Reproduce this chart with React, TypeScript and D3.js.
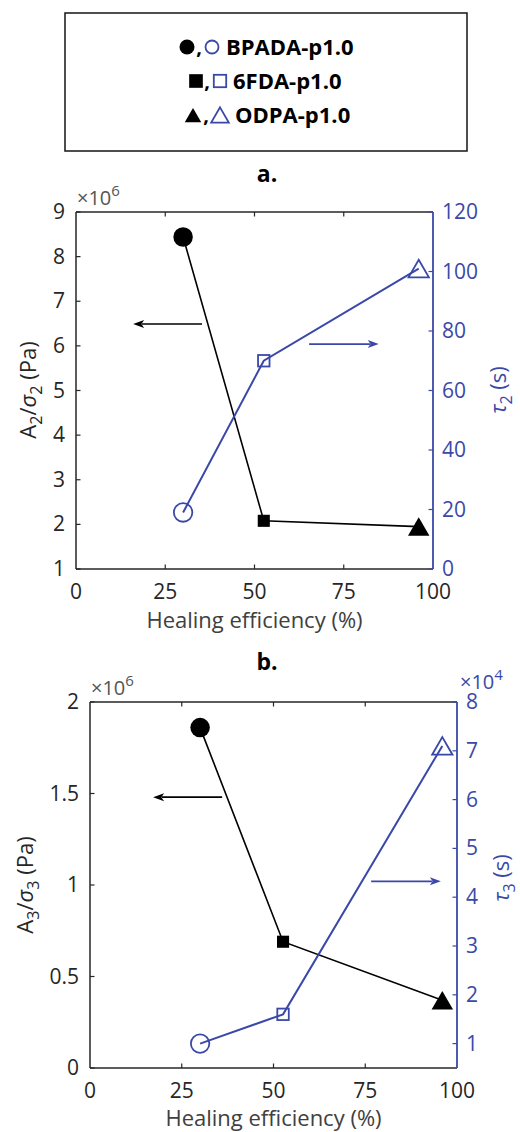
import React from "react";
import * as d3 from "d3";

// ---------- data ----------
const efficiency = [30, 52.6, 96]; // Healing efficiency (%)
const a2Values = [8.44e6, 2.08e6, 1.95e6]; // A2/sigma2 (Pa)
const tau2Values = [19, 70, 101]; // tau2 (s)
const a3Values = [1.86e6, 0.69e6, 0.37e6]; // A3/sigma3 (Pa)
const tau3Values = [1.0e4, 1.6e4, 7.1e4]; // tau3 (s)
const legendNames = ["BPADA-p1.0", "6FDA-p1.0", "ODPA-p1.0"];
const markerKinds = ["circle", "square", "triangle"];

const xTicks = [0, 25, 50, 75, 100];
const leftTicksA = [1, 2, 3, 4, 5, 6, 7, 8, 9];
const rightTicksA = [0, 20, 40, 60, 80, 100, 120];
const leftTicksB = [0, 0.5, 1, 1.5, 2];
const leftTickLabelsB = ["0", "0.5", "1", "1.5", "2"];
const rightTicksB = [1, 2, 3, 4, 5, 6, 7, 8];

// annotation arrows in data coords (x %, left-axis value in units of 1e6)
const arrowsA = [
  { x0: 35.3, x1: 16, y: 6.49, blue: false },
  { x0: 65.3, x1: 84.8, y: 6.04, blue: true },
];
const arrowsB = [
  { x0: 36, x1: 17.2, y: 1.48, blue: false },
  { x0: 76.6, x1: 95.6, y: 1.02, blue: true },
];

const BLUE = "#3a49a8";
const AXIS = "#262626";
const FONT = "'Open Sans', sans-serif";

function Marker({ kind, x, y, filled, color, size }: any) {
  const fill = filled ? color : "none";
  const sw = filled ? 0 : 1.8;
  if (kind === "circle")
    return <circle cx={x} cy={y} r={size / 2} fill={fill} stroke={color} strokeWidth={filled ? 0 : 1.8} />;
  if (kind === "square") {
    const s = size * 0.62;
    return <rect x={x - s / 2} y={y - s / 2} width={s} height={s} fill={fill} stroke={color} strokeWidth={sw || 0} />;
  }
  const w = size * 1.1;
  const h = size * 0.95;
  const pts = `${x},${y - h / 2} ${x + w / 2},${y + h / 2} ${x - w / 2},${y + h / 2}`;
  return <polygon points={pts} fill={fill} stroke={color} strokeWidth={sw || 0} strokeLinejoin="miter" />;
}

function Arrow({ x0, x1, y, color }: any) {
  const dir = x1 > x0 ? 1 : -1;
  const hl = 11;
  const hw = 4;
  return (
    <g>
      <line x1={x0} y1={y} x2={x1 - dir * hl * 0.8} y2={y} stroke={color} strokeWidth={1.6} />
      <polygon
        points={`${x1},${y} ${x1 - dir * hl},${y - hw} ${x1 - dir * hl * 0.75},${y} ${x1 - dir * hl},${y + hw}`}
        fill={color}
      />
    </g>
  );
}

function Panel({ box, leftDomain, leftTicks, leftLabels, rightDomain, rightTicks, leftVals, rightVals, arrows, leftLabel, rightLabel, exp, rightExp, xlabelY }: any) {
  const { l, r, t, b } = box;
  const x = d3.scaleLinear().domain([0, 100]).range([l, r]);
  const yL = d3.scaleLinear().domain(leftDomain).range([b, t]);
  const yR = d3.scaleLinear().domain(rightDomain).range([b, t]);
  const lineL = d3.line<number>().x((_, i) => x(efficiency[i])).y((d) => yL(d));
  const lineR = d3.line<number>().x((_, i) => x(efficiency[i])).y((d) => yR(d));
  const tl = 4.5;
  const fs = 21;
  return (
    <g fontFamily={FONT}>
      {/* axes box */}
      <line x1={l} y1={b} x2={r} y2={b} stroke={AXIS} strokeWidth={1.5} />
      <line x1={l} y1={t} x2={r} y2={t} stroke={AXIS} strokeWidth={1.5} />
      <line x1={l} y1={t} x2={l} y2={b} stroke={AXIS} strokeWidth={1.5} />
      <line x1={r} y1={t} x2={r} y2={b} stroke={BLUE} strokeWidth={1.8} />
      {xTicks.map((v) => (
        <g key={"x" + v}>
          {v > 0 && v < 100 && (
            <>
              <line x1={x(v)} x2={x(v)} y1={b} y2={b - tl} stroke={AXIS} strokeWidth={1.2} />
              <line x1={x(v)} x2={x(v)} y1={t} y2={t + tl} stroke={AXIS} strokeWidth={1.2} />
            </>
          )}
          <text x={x(v)} y={b + 30} textAnchor="middle" fontSize={fs} fill={AXIS}>
            {v}
          </text>
        </g>
      ))}
      {leftTicks.map((v: number, i: number) => (
        <g key={"l" + v}>
          <line x1={l} x2={l + tl} y1={yL(v)} y2={yL(v)} stroke={AXIS} strokeWidth={1.2} />
          <text x={l - 11} y={yL(v) + 7} textAnchor="end" fontSize={fs} fill={AXIS}>
            {leftLabels ? leftLabels[i] : v}
          </text>
        </g>
      ))}
      {rightTicks.map((v: number) => (
        <g key={"r" + v}>
          <line x1={r} x2={r - tl} y1={yR(v)} y2={yR(v)} stroke={BLUE} strokeWidth={1.2} />
          <text x={r + 9} y={yR(v) + 7} textAnchor="start" fontSize={fs} fill={BLUE}>
            {v}
          </text>
        </g>
      ))}
      {/* exponents */}
      <text x={l + 1} y={t - 7} fontSize={20} fill="#555">
        ×10<tspan dy={-9} fontSize={15}>{exp}</tspan>
      </text>
      {rightExp && (
        <text x={r + 3} y={t - 13} fontSize={20} fill={BLUE}>
          ×10<tspan dy={-9} fontSize={15}>{rightExp}</tspan>
        </text>
      )}
      {/* axis labels */}
      <text x={(l + r) / 2} y={xlabelY} textAnchor="middle" fontSize={22} fill="#404040">
        Healing efficiency (%)
      </text>
      <text transform={`translate(${leftLabel.x},${leftLabel.y}) rotate(-90)`} textAnchor="middle" fontSize={22} fill={AXIS}>
        A<tspan dy={6} fontSize={16}>{leftLabel.n}</tspan>
        <tspan dy={-6}>/</tspan>
        <tspan fontStyle="italic">σ</tspan>
        <tspan dy={6} fontSize={16}>{leftLabel.n}</tspan>
        <tspan dy={-6}> (Pa)</tspan>
      </text>
      <text transform={`translate(${rightLabel.x},${rightLabel.y}) rotate(-90)`} textAnchor="middle" fontSize={22} fill={BLUE}>
        <tspan fontStyle="italic">τ</tspan>
        <tspan dy={6} fontSize={16}>{rightLabel.n}</tspan>
        <tspan dy={-6}> (s)</tspan>
      </text>
      {/* data */}
      <path d={lineL(leftVals) || ""} fill="none" stroke="#000" strokeWidth={1.6} />
      <path d={lineR(rightVals) || ""} fill="none" stroke={BLUE} strokeWidth={2} />
      {leftVals.map((v: number, i: number) => (
        <Marker key={"ml" + i} kind={markerKinds[i]} x={x(efficiency[i])} y={yL(v)} filled color="#000" size={19.5} />
      ))}
      {rightVals.map((v: number, i: number) => (
        <Marker key={"mr" + i} kind={markerKinds[i]} x={x(efficiency[i])} y={yR(v)} filled={false} color={BLUE} size={18.5} />
      ))}
      {arrows.map((a: any, i: number) => (
        <Arrow key={"ar" + i} x0={x(a.x0)} x1={x(a.x1)} y={yL(a.y)} color={a.blue ? BLUE : "#000"} />
      ))}
    </g>
  );
}

export default function App() {
  const rows = [47, 81, 115];
  const legendMarkerX = [
    { f: 187, c: 199, o: 212, t: 226 },
    { f: 196, c: 207, o: 220, t: 233 },
    { f: 193, c: 206, o: 220, t: 235 },
  ];
  return (
    <svg width={520} height={1132} style={{ position: "absolute", left: 0, top: 0, background: "#fff" }}>
      <rect x={0} y={0} width={520} height={1132} fill="#fff" />
      {/* legend */}
      <rect x={65} y={13} width={402} height={138} fill="none" stroke="#222" strokeWidth={1.6} />
      {legendNames.map((name, i) => {
        const y = rows[i];
        const m = legendMarkerX[i];
        return (
          <g key={name} fontFamily={FONT}>
            <Marker kind={markerKinds[i]} x={m.f} y={y} filled color="#000" size={i === 1 ? 22 : 15} />
            <text x={m.c} y={y + 7} fontSize={20} fontWeight="bold" textAnchor="middle">,</text>
            <Marker kind={markerKinds[i]} x={m.o} y={y} filled={false} color={BLUE} size={i === 1 ? 20 : i === 0 ? 13 : 16} />
            <text x={m.t} y={y + 7.5} fontSize={22} fontWeight="bold" fill="#000">
              {name}
            </text>
          </g>
        );
      })}
      <text x={267} y={182} textAnchor="middle" fontFamily={FONT} fontSize={23} fontWeight="bold">a.</text>
      <text x={267} y={670} textAnchor="middle" fontFamily={FONT} fontSize={23} fontWeight="bold">b.</text>

      <Panel
        box={{ l: 76, r: 433, t: 212, b: 569 }}
        leftDomain={[1, 9]}
        leftTicks={leftTicksA}
        rightDomain={[0, 120]}
        rightTicks={rightTicksA}
        leftVals={a2Values.map((v) => v / 1e6)}
        rightVals={tau2Values}
        arrows={arrowsA}
        leftLabel={{ x: 36, y: 390, n: "2" }}
        rightLabel={{ x: 506, y: 390, n: "2" }}
        exp="6"
        xlabelY={628}
      />
      <Panel
        box={{ l: 90, r: 457, t: 702, b: 1068 }}
        leftDomain={[0, 2]}
        leftTicks={leftTicksB}
        leftLabels={leftTickLabelsB}
        rightDomain={[0.5, 8]}
        rightTicks={rightTicksB}
        leftVals={a3Values.map((v) => v / 1e6)}
        rightVals={tau3Values.map((v) => v / 1e4)}
        arrows={arrowsB}
        leftLabel={{ x: 33, y: 885, n: "3" }}
        rightLabel={{ x: 509, y: 878, n: "3" }}
        exp="6"
        rightExp="4"
        xlabelY={1126}
      />
    </svg>
  );
}
